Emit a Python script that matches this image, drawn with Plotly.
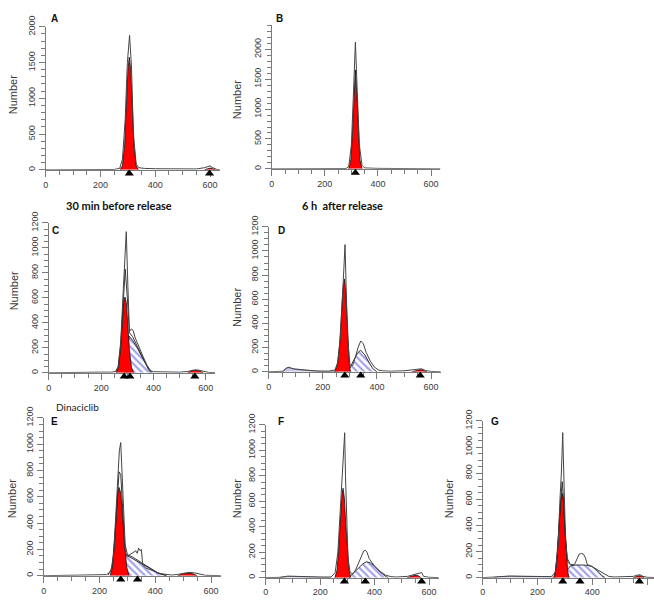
import plotly.graph_objects as go

W, H = 654, 612
X_MAX = 635

# ---------------- data ----------------
# Panel A (30 min before release, control)
A_data_x = [0, 50, 100, 150, 200, 250, 270, 280, 290, 298, 306, 313, 320, 330, 340, 360, 400, 450, 500, 550, 580, 592, 600, 610, 625, 640]
A_data_y = [0, 0, 2, 3, 3, 5, 20, 150, 700, 1500, 1880, 1450, 500, 80, 30, 20, 15, 12, 10, 12, 30, 50, 55, 30, 5, 0]
A_g1_x = [272, 280, 288, 294, 300, 305, 310, 316, 322, 330, 338]
A_g1_y = [0, 60, 350, 900, 1400, 1575, 1400, 900, 350, 60, 0]
A_g2_x = [580, 590, 600, 610, 620]
A_g2_y = [0, 15, 25, 15, 0]
A_markers = [305, 598]

# Panel B (6 h after release, control)
B_data_x = [0, 100, 200, 280, 290, 300, 308, 315, 322, 330, 340, 350, 400, 500, 600, 640]
B_data_y = [0, 0, 2, 5, 40, 400, 1300, 2120, 1300, 400, 60, 15, 8, 5, 3, 0]
B_g1_x = [290, 298, 304, 309, 315, 321, 326, 332, 340]
B_g1_y = [0, 150, 600, 1200, 1655, 1200, 600, 150, 0]
B_markers = [315]

# Panel C
C_data_x = [0, 60, 100, 150, 200, 240, 255, 265, 275, 283, 290, 296, 302, 308, 315, 322, 330, 345, 360, 375, 390, 400, 450, 500, 530, 550, 570, 590, 610, 640]
C_data_y = [0, 3, 5, 5, 5, 5, 10, 50, 250, 600, 950, 1129, 700, 330, 350, 340, 280, 200, 130, 60, 15, 8, 5, 5, 10, 20, 22, 10, 3, 0]
C_fit_x = [255, 265, 275, 283, 292, 300, 308, 320, 340, 360, 380, 395]
C_fit_y = [5, 40, 230, 560, 829, 600, 320, 290, 200, 110, 30, 5]
C_g1_x = [258, 266, 274, 280, 286, 291, 296, 302, 308, 316, 324]
C_g1_y = [0, 40, 180, 380, 560, 606, 560, 380, 180, 40, 0]
C_s_x = [295, 300, 307, 320, 340, 360, 375, 385, 392]
C_s_y = [0, 200, 293, 260, 190, 110, 50, 15, 0]
C_g2_x = [530, 545, 560, 575, 590]
C_g2_y = [0, 15, 22, 15, 0]
C_markers = [288, 310, 558]

# Panel D
D_data_x = [0, 55, 65, 75, 90, 110, 130, 150, 180, 220, 245, 255, 265, 272, 278, 282, 286, 292, 300, 310, 320, 330, 340, 350, 360, 375, 390, 405, 420, 450, 500, 530, 550, 565, 580, 600, 640]
D_data_y = [0, 5, 30, 38, 25, 20, 12, 8, 5, 5, 15, 80, 300, 600, 950, 1052, 700, 250, 60, 50, 120, 200, 255, 230, 160, 90, 40, 15, 8, 5, 8, 15, 20, 25, 10, 3, 0]
D_g1_x = [244, 254, 262, 268, 274, 280, 285, 290, 294, 298, 302]
D_g1_y = [0, 60, 220, 450, 680, 768, 650, 420, 200, 60, 0]
D_s_x = [290, 300, 315, 330, 340, 355, 370, 385, 400]
D_s_y = [0, 30, 100, 160, 178, 140, 80, 25, 0]
D_debris_x = [50, 60, 70, 80, 100, 130, 160, 200, 240, 260]
D_debris_y = [0, 25, 35, 30, 20, 12, 8, 5, 3, 0]
D_g2_x = [530, 545, 560, 572, 585]
D_g2_y = [0, 12, 18, 12, 0]
D_markers = [281, 340, 560]

# Panel E
E_data_x = [0, 60, 100, 150, 200, 225, 240, 250, 258, 265, 271, 276, 281, 287, 293, 300, 310, 320, 330, 335, 340, 345, 350, 355, 365, 380, 400, 420, 440, 460, 480, 500, 520, 540, 560, 580, 640]
E_data_y = [0, 3, 5, 5, 5, 8, 30, 150, 450, 750, 950, 1013, 750, 400, 180, 150, 160, 175, 190, 170, 210, 190, 200, 80, 60, 45, 30, 15, 8, 5, 10, 20, 25, 22, 10, 3, 0]
E_fit_x = [230, 245, 255, 263, 270, 276, 283, 290, 300, 320, 350, 380, 410, 440]
E_fit_y = [5, 60, 300, 600, 790, 770, 500, 250, 160, 140, 100, 60, 20, 3]
E_g1_x = [238, 246, 254, 260, 265, 270, 276, 282, 290, 298, 306]
E_g1_y = [0, 60, 250, 470, 630, 671, 630, 470, 220, 60, 0]
E_s_x = [262, 270, 280, 294, 310, 330, 350, 370, 390, 410, 425, 440]
E_s_y = [0, 40, 120, 156, 140, 115, 90, 65, 40, 20, 8, 0]
E_g2_x = [480, 500, 520, 535, 550]
E_g2_y = [0, 15, 20, 15, 0]
E_markers = [276, 336]

# Panel F
F_data_x = [0, 60, 80, 100, 150, 200, 240, 255, 265, 273, 280, 286, 290, 293, 297, 302, 310, 320, 330, 340, 350, 360, 366, 372, 380, 390, 400, 420, 440, 460, 480, 520, 540, 555, 565, 573, 580, 600, 640]
F_data_y = [0, 3, 12, 10, 8, 5, 5, 40, 200, 500, 700, 900, 1138, 800, 450, 150, 40, 30, 60, 110, 170, 210, 215, 200, 150, 120, 90, 50, 20, 8, 5, 10, 20, 25, 30, 40, 10, 3, 0]
F_g1_x = [254, 262, 268, 274, 280, 284, 289, 294, 300, 306, 312]
F_g1_y = [0, 60, 230, 450, 650, 702, 620, 420, 200, 60, 0]
F_s_x = [305, 320, 340, 355, 370, 385, 400, 420, 440, 450]
F_s_y = [0, 30, 70, 105, 125, 115, 90, 45, 10, 0]
F_debris_x = [50, 60, 100, 150, 200, 240]
F_debris_y = [0, 8, 10, 8, 5, 0]
F_g2_x = [520, 535, 550, 560, 570]
F_g2_y = [0, 12, 20, 15, 0]
F_markers = [289, 366, 573]

# Panel G
G_data_x = [0, 40, 60, 100, 150, 200, 250, 265, 275, 282, 287, 292, 297, 302, 310, 320, 335, 345, 352, 360, 368, 375, 382, 395, 420, 440, 460, 480, 520, 550, 565, 575, 585, 600, 640]
G_data_y = [0, 3, 8, 12, 10, 8, 8, 40, 250, 600, 800, 1110, 700, 300, 120, 100, 100, 140, 180, 185, 180, 150, 100, 90, 60, 30, 10, 5, 5, 10, 20, 22, 10, 3, 0]
G_fit_x = [262, 272, 280, 286, 290, 295, 300, 308, 320]
G_fit_y = [10, 150, 450, 680, 735, 600, 350, 150, 100]
G_g1_x = [259, 266, 272, 278, 285, 290, 295, 300, 305, 310, 315]
G_g1_y = [0, 50, 200, 420, 600, 647, 590, 400, 180, 50, 0]
G_s_x = [296, 305, 320, 340, 360, 380, 400, 420, 435, 447]
G_s_y = [0, 50, 90, 97, 97, 95, 85, 50, 15, 0]
G_debris_x = [40, 60, 100, 150, 200, 250, 265]
G_debris_y = [0, 8, 12, 10, 8, 8, 0]
G_g2_x = [550, 560, 570, 580, 590]
G_g2_y = [0, 10, 15, 10, 0]
G_markers = [292, 355, 572]

TITLE_LEFT = "30 min before release"
TITLE_RIGHT = "6 h  after release"
TREATMENT = "Dinaciclib"
Y_TITLE = "Number"

panels = {
    "A": dict(data=(A_data_x, A_data_y), g1=(A_g1_x, A_g1_y), g2=(A_g2_x, A_g2_y), markers=A_markers),
    "B": dict(data=(B_data_x, B_data_y), g1=(B_g1_x, B_g1_y), markers=B_markers),
    "C": dict(data=(C_data_x, C_data_y), fit=(C_fit_x, C_fit_y), g1=(C_g1_x, C_g1_y), s=(C_s_x, C_s_y), g2=(C_g2_x, C_g2_y), markers=C_markers),
    "D": dict(data=(D_data_x, D_data_y), g1=(D_g1_x, D_g1_y), s=(D_s_x, D_s_y), debris=(D_debris_x, D_debris_y), g2=(D_g2_x, D_g2_y), markers=D_markers),
    "E": dict(data=(E_data_x, E_data_y), fit=(E_fit_x, E_fit_y), g1=(E_g1_x, E_g1_y), s=(E_s_x, E_s_y), g2=(E_g2_x, E_g2_y), markers=E_markers),
    "F": dict(data=(F_data_x, F_data_y), g1=(F_g1_x, F_g1_y), s=(F_s_x, F_s_y), debris=(F_debris_x, F_debris_y), g2=(F_g2_x, F_g2_y), markers=F_markers),
    "G": dict(data=(G_data_x, G_data_y), fit=(G_fit_x, G_fit_y), g1=(G_g1_x, G_g1_y), s=(G_s_x, G_s_y), debris=(G_debris_x, G_debris_y), g2=(G_g2_x, G_g2_y), markers=G_markers),
}

# ---------------- layout (pixel geometry) ----------------
# x0: pixel of x=0, sx: px per unit, y0: pixel of y=0, ytop: pixel of ymax
geom = {
    "A": dict(x0=43, sx=0.275, y0=162, ytop=16, ymax=2000, dt=500, mdt=100, lab=(52, 8), ytl=(10, 85)),
    "B": dict(x0=270, sx=0.2667, y0=161, ytop=14.6, ymax=2400, dt=500, mdt=100, lab=(278, 8), ytl=(235, 90)),
    "C": dict(x0=46, sx=0.263, y0=369, ytop=216, ymax=1200, dt=200, mdt=50, lab=(53, 224), ytl=(11, 285)),
    "D": dict(x0=267, sx=0.2717, y0=368, ytop=220, ymax=1200, dt=200, mdt=50, lab=(280, 224), ytl=(235, 302)),
    "E": dict(x0=41, sx=0.28, y0=576, ytop=415, ymax=1200, dt=200, mdt=50, lab=(52, 419), ytl=(9, 497)),
    "F": dict(x0=264, sx=0.2733, y0=578, ytop=422, ymax=1200, dt=200, mdt=50, lab=(279, 419), ytl=(235, 497)),
    "G": dict(x0=482, sx=0.275, y0=578, ytop=418, ymax=1200, dt=200, mdt=50, lab=(494, 419), ytl=(448, 497)),
}

AX_COL = "#7a7a7a"
TXT_COL = "#3a3a3a"
TICK_FONT = dict(family="Liberation Sans, Arial", size=9, color=TXT_COL)
N = len(panels)

fig = go.Figure()
layout = dict(width=W, height=H, margin=dict(l=0, r=0, t=0, b=0),
              plot_bgcolor="rgba(0,0,0,0)", paper_bgcolor="white", showlegend=False)
annotations = []

for i, (key, p) in enumerate(panels.items(), start=1):
    g = geom[key]
    xa, ya = f"x{i}", f"y{i}"
    ym = f"y{i + N}"  # strip just below the x axis that carries the peak markers
    x_end_px = g["x0"] + X_MAX * g["sx"]
    xmax = X_MAX
    if x_end_px > W:
        x_end_px = W
        xmax = (W - g["x0"]) / g["sx"]
    layout[f"xaxis{i}"] = dict(
        domain=[g["x0"] / W, x_end_px / W], range=[0, xmax], anchor=ya,
        showline=True, linecolor=AX_COL, linewidth=1, showgrid=False, zeroline=False,
        ticks="outside", ticklen=6, tickcolor=AX_COL, tickmode="linear", tick0=0, dtick=200,
        tickfont=TICK_FONT,
        minor=dict(ticks="outside", ticklen=4, tickcolor=AX_COL, tickmode="linear", tick0=0, dtick=50, showgrid=False),
        fixedrange=True)
    layout[f"yaxis{i}"] = dict(
        domain=[1 - g["y0"] / H, 1 - g["ytop"] / H], range=[0, g["ymax"] * 1.0005], anchor=xa,
        showline=True, linecolor=AX_COL, linewidth=1, showgrid=False, zeroline=False,
        ticks="outside", ticklen=6, tickcolor=AX_COL, tickmode="linear", tick0=0, dtick=g["dt"],
        tickangle=-90, tickfont=TICK_FONT,
        minor=dict(ticks="outside", ticklen=4, tickcolor=AX_COL, tickmode="linear", tick0=0, dtick=g["mdt"], showgrid=False),
        fixedrange=True)
    layout[f"yaxis{i + N}"] = dict(
        domain=[1 - (g["y0"] + 8) / H, 1 - (g["y0"] + 0.5) / H], range=[0, 1], anchor=xa,
        visible=False, fixedrange=True)

    if "debris" in p:
        fig.add_trace(go.Scatter(x=p["debris"][0], y=p["debris"][1], xaxis=xa, yaxis=ya, mode="lines",
                                 fill="tozeroy", fillcolor="#c9c9ef", line=dict(color="#777", width=0.8)))
    if "s" in p:
        fig.add_trace(go.Scatter(x=p["s"][0], y=p["s"][1], xaxis=xa, yaxis=ya, mode="lines", fill="tozeroy",
                                 fillcolor="white",
                                 fillpattern=dict(shape="\\", fgcolor="#4646d8", bgcolor="white", size=5, solidity=0.45),
                                 line=dict(color="#333", width=1)))
    fig.add_trace(go.Scatter(x=p["g1"][0], y=p["g1"][1], xaxis=xa, yaxis=ya, mode="lines",
                             fill="tozeroy", fillcolor="#ff0000", line=dict(color="#111", width=0.8)))
    if "g2" in p:
        fig.add_trace(go.Scatter(x=p["g2"][0], y=p["g2"][1], xaxis=xa, yaxis=ya, mode="lines",
                                 fill="tozeroy", fillcolor="#ff0000", line=dict(color="#111", width=0.8)))
    if "fit" in p:
        fig.add_trace(go.Scatter(x=p["fit"][0], y=p["fit"][1], xaxis=xa, yaxis=ya, mode="lines",
                                 line=dict(color="#222", width=0.9)))
    fig.add_trace(go.Scatter(x=p["data"][0], y=p["data"][1], xaxis=xa, yaxis=ya, mode="lines",
                             line=dict(color="#444", width=1)))
    fig.add_trace(go.Scatter(x=p["markers"], y=[0.55] * len(p["markers"]), xaxis=xa, yaxis=ym, mode="markers",
                             marker=dict(symbol="triangle-up", size=8, color="black"), cliponaxis=False))

    annotations.append(dict(text=f"<b>{key}</b>", x=g["lab"][0] / W, y=1 - g["lab"][1] / H, xref="paper", yref="paper",
                            xanchor="center", yanchor="middle", showarrow=False,
                            font=dict(family="Liberation Sans, Arial", size=10, color="#111")))
    annotations.append(dict(text=Y_TITLE, x=g["ytl"][0] / W, y=1 - g["ytl"][1] / H, xref="paper", yref="paper",
                            xanchor="center", yanchor="middle", showarrow=False, textangle=-90,
                            font=dict(family="Liberation Sans, Arial", size=11, color=TXT_COL)))

annotations.append(dict(text=f"<b>{TITLE_LEFT}</b>", x=117 / W, y=1 - 198 / H, xref="paper", yref="paper",
                        xanchor="center", yanchor="middle", showarrow=False,
                        font=dict(family="Lato", size=11, color="#111")))
annotations.append(dict(text=f"<b>{TITLE_RIGHT}</b>", x=341 / W, y=1 - 198 / H, xref="paper", yref="paper",
                        xanchor="center", yanchor="middle", showarrow=False,
                        font=dict(family="Lato", size=11, color="#111")))
annotations.append(dict(text=TREATMENT, x=75 / W, y=1 - 404 / H, xref="paper", yref="paper",
                        xanchor="center", yanchor="middle", showarrow=False,
                        font=dict(family="Lato", size=10, color="#222")))

layout["annotations"] = annotations
fig.update_layout(**layout)
fig.write_html("out.html", config={"displayModeBar": False},
               post_script="document.body.style.margin='0';document.body.style.overflow='hidden';")
